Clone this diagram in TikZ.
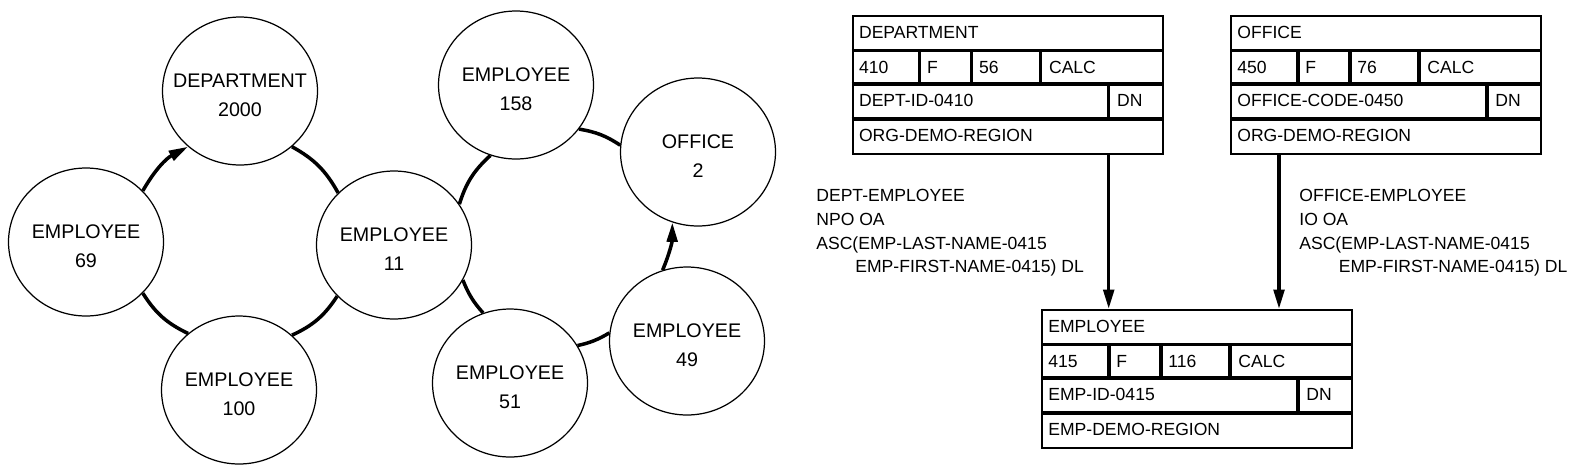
\documentclass[tikz,border=0pt]{standalone}
\usepackage{fontspec}
\setmainfont{Liberation Sans}
\usetikzlibrary{calc}
\usetikzlibrary{shapes.geometric}
\usetikzlibrary{arrows.meta}
\newcommand{\occtext}[2]{\rule{0pt}{13pt}\makebox[0pt]{#1}\\\makebox[0pt]{#2}}
\tikzset{
  occurrence/.style={draw, line width=.7pt, ellipse, inner sep=0pt, minimum width=3.1cm, minimum height=2.96cm, align=center, font=\fontsize{11.2}{16.5}\selectfont},
  setline/.style={line width=2pt},
  tip/.style={-{Triangle[length=11pt,width=6pt]}},
  recbox/.style={draw, line width=1.1pt, inner sep=0pt, minimum width=6.2cm, minimum height=2.76cm, anchor=north west},
  divider/.style={line width=2pt},
  celltext/.style={anchor=base west, inner sep=0pt, font=\fontsize{10}{12}\selectfont},
  setlabel/.style={anchor=north west, align=left, inner sep=0pt, font=\fontsize{10}{13.5}\selectfont}
}
\newcommand{\recordbox}[7]{%
  \node[recbox] (#1) at (#2) {};
  \foreach \yy in {35.5,69,104}
    \draw[divider] ($(#1.north west)+(0,\yy)$) -- ++(310,0);
  \foreach \xx in {68,120,189}
    \draw[divider] ($(#1.north west)+(\xx,35.5)$) -- ++(0,33.5);
  \draw[divider] ($(#1.north west)+(257,69)$) -- ++(0,35);
  \coordinate (#1-dn) at ($(#1.south west)+(257,0)$);
  \node[celltext] (#1-name) at ($(#1.north west)+(7,23)$) {#3};
  \node[celltext] (#1-id) at ($(#1.north west)+(7,58)$) {#4};
  \node[celltext] (#1-type) at ($(#1.north west)+(75,58)$) {F};
  \node[celltext] (#1-len) at ($(#1.north west)+(127,58)$) {#5};
  \node[celltext] (#1-loc) at ($(#1.north west)+(197,58)$) {CALC};
  \node[celltext] (#1-key) at ($(#1.north west)+(7,91.5)$) {#6};
  \node[celltext] (#1-dup) at ($(#1.north west)+(265,91.5)$) {DN};
  \node[celltext] (#1-area) at ($(#1.north west)+(7,126.5)$) {#7};
}

\begin{document}
\begin{tikzpicture}[x=0.02cm, y=-0.02cm]
    \useasboundingbox (0,0) rectangle (1584,471);
    \node[occurrence] (dept2000) at (240,91) {\occtext{DEPARTMENT}{2000}};
    \node[occurrence] (emp69) at (86,242) {\occtext{EMPLOYEE}{69}};
    \node[occurrence] (emp11) at (394,245) {\occtext{EMPLOYEE}{11}};
    \node[occurrence] (emp100) at (239,390) {\occtext{EMPLOYEE}{100}};
    \node[occurrence] (emp158) at (516,85) {\occtext{EMPLOYEE}{158}};
    \node[occurrence] (office2) at (698,152) {\occtext{OFFICE}{2}};
    \node[occurrence] (emp49) at (687,341) {\occtext{EMPLOYEE}{49}};
    \node[occurrence] (emp51) at (510,383) {\occtext{EMPLOYEE}{51}};
    \draw[setline, tip] (emp69.42) to[bend left=16] (dept2000.227);
    \draw[setline] (dept2000.313) to[bend left=16] (emp11.137);
    \draw[setline] (emp11.222) to[bend left=16] (emp100.46);
    \draw[setline] (emp100.132) to[bend left=16] (emp69.318);
    \draw[setline] (emp11.32) to[bend left=15] (emp158.250);
    \draw[setline] (emp158.325) to[bend left=12] (office2.175);
    \draw[setline, tip] (emp49.109) to[bend right=11] (office2.250);
    \draw[setline] (emp49.174) to[bend left=9] (emp51.29);
    \draw[setline] (emp51.111) to[bend left=10] (emp11.333);
    \recordbox{deptrec}{851.7,15}{DEPARTMENT}{410}{56}{DEPT-ID-0410}{ORG-DEMO-REGION}
    \recordbox{officerec}{1230,15}{OFFICE}{450}{76}{OFFICE-CODE-0450}{ORG-DEMO-REGION}
    \recordbox{emprec}{1041,309}{EMPLOYEE}{415}{116}{EMP-ID-0415}{EMP-DEMO-REGION}
    \coordinate (officefoot) at ($(officerec.south west)+(49,0)$);
    \draw[setline, tip] (deptrec-dn) -- (deptrec-dn |- emprec.north);
    \draw[setline, tip] (officefoot) -- (officefoot |- emprec.north);
    \node[setlabel] (deptset) at (816,189) {DEPT-EMPLOYEE\\NPO OA\\ASC(EMP-LAST-NAME-0415\\\hspace*{0.78cm}EMP-FIRST-NAME-0415) DL};
    \node[setlabel] (officeset) at (1299,189) {OFFICE-EMPLOYEE\\IO OA\\ASC(EMP-LAST-NAME-0415\\\hspace*{0.79cm}EMP-FIRST-NAME-0415) DL};
\end{tikzpicture}
\end{document}
